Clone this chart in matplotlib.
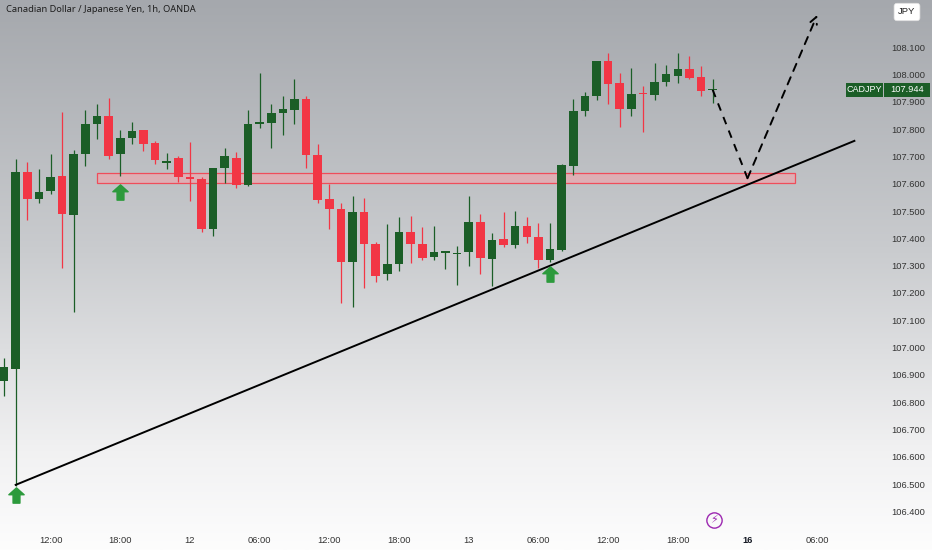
import numpy as np
import matplotlib
matplotlib.use("Agg")
import matplotlib.pyplot as plt
from matplotlib.patches import Rectangle
from matplotlib.path import Path
from matplotlib.colors import LinearSegmentedColormap

# hourly candles, bar index 0 = 11th 12:00
bar_idx = np.arange(-4, 58)

opens = [106.878, 106.922, 107.643, 107.544, 107.574, 107.629, 107.486, 107.709, 107.819, 107.848,
         107.709, 107.768, 107.797, 107.749, 107.676, 107.695, 107.625, 107.618, 107.434, 107.658,
         107.695, 107.596, 107.819, 107.823, 107.859, 107.870, 107.911, 107.705, 107.544, 107.508,
         107.314, 107.497, 107.379, 107.270, 107.306, 107.423, 107.379, 107.332, 107.347, 107.343,
         107.350, 107.460, 107.325, 107.398, 107.376, 107.445, 107.405, 107.321, 107.358, 107.665,
         107.867, 107.922, 108.050, 107.969, 107.874, 107.933, 107.925, 107.973, 107.995, 108.021,
         107.991, 107.942]
highs = [106.962, 107.691, 107.680, 107.654, 107.709, 107.863, 107.724, 107.870, 107.892, 107.914,
         107.797, 107.826, 107.797, 107.757, 107.713, 107.702, 107.753, 107.625, 107.658, 107.731,
         107.716, 107.870, 108.006, 107.892, 107.922, 107.984, 107.922, 107.746, 107.599, 107.530,
         107.555, 107.548, 107.387, 107.453, 107.478, 107.482, 107.442, 107.445, 107.354, 107.372,
         107.555, 107.489, 107.420, 107.497, 107.500, 107.478, 107.456, 107.456, 107.673, 107.911,
         107.936, 108.050, 108.079, 108.006, 108.024, 107.958, 108.042, 108.035, 108.079, 108.068,
         108.032, 107.984]
lows = [106.823, 106.493, 107.467, 107.530, 107.563, 107.292, 107.130, 107.665, 107.764, 107.691,
        107.629, 107.746, 107.720, 107.673, 107.654, 107.607, 107.537, 107.423, 107.409, 107.603,
        107.585, 107.590, 107.804, 107.731, 107.779, 107.819, 107.658, 107.530, 107.434, 107.163,
        107.149, 107.218, 107.240, 107.248, 107.281, 107.310, 107.321, 107.321, 107.288, 107.229,
        107.299, 107.270, 107.226, 107.368, 107.365, 107.383, 107.292, 107.314, 107.355, 107.632,
        107.848, 107.907, 107.892, 107.808, 107.848, 107.790, 107.907, 107.958, 107.969, 107.984,
        107.922, 107.896]
closes = [106.929, 107.643, 107.544, 107.570, 107.625, 107.489, 107.709, 107.819, 107.848, 107.702,
          107.768, 107.793, 107.746, 107.687, 107.684, 107.625, 107.618, 107.434, 107.658, 107.702,
          107.596, 107.819, 107.826, 107.859, 107.874, 107.911, 107.705, 107.541, 107.508, 107.314,
          107.497, 107.379, 107.262, 107.306, 107.423, 107.379, 107.328, 107.350, 107.354, 107.347,
          107.460, 107.328, 107.394, 107.376, 107.445, 107.405, 107.321, 107.361, 107.669, 107.867,
          107.922, 108.050, 107.966, 107.874, 107.929, 107.929, 107.973, 108.002, 108.021, 107.988,
          107.940, 107.944]

tick_pos = [0, 6, 12, 18, 24, 30, 36, 42, 48, 54, 60, 66]
tick_labels = ['12:00', '18:00', '12', '06:00', '12:00', '18:00', '13', '06:00', '12:00', '18:00', '16', '06:00']
price_ticks = np.round(np.arange(106.4, 108.15, 0.1), 1)

zone_x = [4, 64.1]
zone_y = [107.603, 107.640]
trend_x = [-3, 69.2]
trend_y = [106.497, 107.757]
proj_x = [57, 60, 66]
proj_y = [107.944, 107.620, 108.218]
arrow_x = [-3, 6, 43]
arrow_y = [106.460, 107.570, 107.270]
last_price = 107.944

GREEN = '#1b5e27'
RED = '#f23645'

fig = plt.figure(figsize=(9.32, 5.5), dpi=100)

# background gradient
bg = fig.add_axes([0, 0, 1, 1], zorder=0)
cmap = LinearSegmentedColormap.from_list(
    'bg', [(0, '#a5a8ad'), (0.45, '#c9cbce'), (0.82, '#f1f1f2'), (1, '#fdfdfd')])
bg.imshow(np.linspace(0, 1, 256).reshape(-1, 1), aspect='auto', cmap=cmap, extent=[0, 1, 0, 1])
bg.axis('off')

ax = fig.add_axes([0, 22 / 550, 866 / 932, 528 / 550], zorder=1)
ax.patch.set_alpha(0)

o = np.array(opens)
c = np.array(closes)
up = c >= o
cols = np.where(up, GREEN, RED)
ax.vlines(bar_idx, lows, highs, colors=cols, lw=0.9, zorder=3)
body_h = np.maximum(np.abs(c - o), 0.004)
ax.bar(bar_idx, body_h, bottom=np.minimum(o, c), width=0.74, color=cols, zorder=4)

# support zone
ax.add_patch(Rectangle((zone_x[0], zone_y[0]), zone_x[1] - zone_x[0], zone_y[1] - zone_y[0],
                       fc=(0.97, 0.63, 0.66, 0.55), ec='#ef4d5a', lw=0.9, zorder=2))

# trend line and projection
ax.plot(trend_x, trend_y, color='black', lw=1.4, zorder=5)
ax.plot(proj_x[:2], proj_y[:2], color='black', lw=1.4, ls=(0, (4, 3.5)), zorder=5)
ax.annotate('', xy=(proj_x[2], proj_y[2]), xytext=(proj_x[1], proj_y[1]),
            arrowprops=dict(arrowstyle='->,head_length=0.5,head_width=0.25', color='black',
                            lw=1.4, ls=(0, (4, 3.5)), shrinkA=0, shrinkB=0), zorder=5)

# up arrows
arrow_path = Path([(0, 1), (-1, 0.1), (-0.45, 0.1), (-0.45, -1), (0.45, -1), (0.45, 0.1), (1, 0.1), (0, 1)],
                  [Path.MOVETO] + [Path.LINETO] * 6 + [Path.CLOSEPOLY])
ax.plot(arrow_x, arrow_y, ls='none', marker=arrow_path, ms=11, color='#2c9a3c', mec='#2c9a3c', zorder=6)

# event marker
ax.plot([57.1], [106.369], marker='o', ms=11, mfc='none', mec='#9c27b0', mew=1.0, zorder=6)
ax.text(57.1, 106.369, '\u26a1', color='#9c27b0', fontsize=8, ha='center', va='center',
        family='DejaVu Sans', zorder=7)

ax.set_xlim(-4.35, 70.2)
ax.set_ylim(106.339, 108.273)
for s in ax.spines.values():
    s.set_visible(False)

ax.yaxis.tick_right()
ax.set_yticks(price_ticks)
ax.set_yticklabels([f'{p:.3f}' for p in price_ticks], family='Liberation Sans')
ax.set_xticks(tick_pos)
ax.set_xticklabels(tick_labels, family='Liberation Sans')
ax.tick_params(axis='y', length=0, pad=18.5, labelsize=6.7, labelcolor='#333333')
ax.tick_params(axis='x', length=0, pad=6, labelsize=6.7, labelcolor='#333333')
for lab in ax.get_xticklabels():
    if lab.get_text() == '16':
        lab.set_fontweight('bold')
        lab.set_color('#131722')

fig.text(6 / 932, 1 - 10 / 550, 'Canadian Dollar / Japanese Yen, 1h, OANDA', fontsize=6.7,
         family='Noto Sans', color='#1e1e1e', va='center', ha='left')

fig.text(907 / 932, 1 - 12 / 550, 'JPY', fontsize=6.8, family='Liberation Sans', color='#222222',
         ha='center', va='center',
         bbox=dict(boxstyle='round,pad=0.45,rounding_size=0.3', fc='white', ec='#dddddd', lw=0.5))

# last price tag
fig.add_artist(Rectangle((846 / 932, 1 - 97 / 550), 37 / 932, 14 / 550, transform=fig.transFigure,
                         fc=GREEN, ec='none'))
fig.add_artist(Rectangle((884 / 932, 1 - 97 / 550), 46 / 932, 14 / 550, transform=fig.transFigure,
                         fc=GREEN, ec='none'))
fig.text(864.5 / 932, 1 - 90 / 550, 'CADJPY', fontsize=6.5, family='Liberation Sans', color='white',
         ha='center', va='center')
fig.text(907 / 932, 1 - 90 / 550, f'{last_price:.3f}', fontsize=6.7, family='Liberation Sans',
         color='white', ha='center', va='center')

fig.savefig('out.png', dpi=100)
